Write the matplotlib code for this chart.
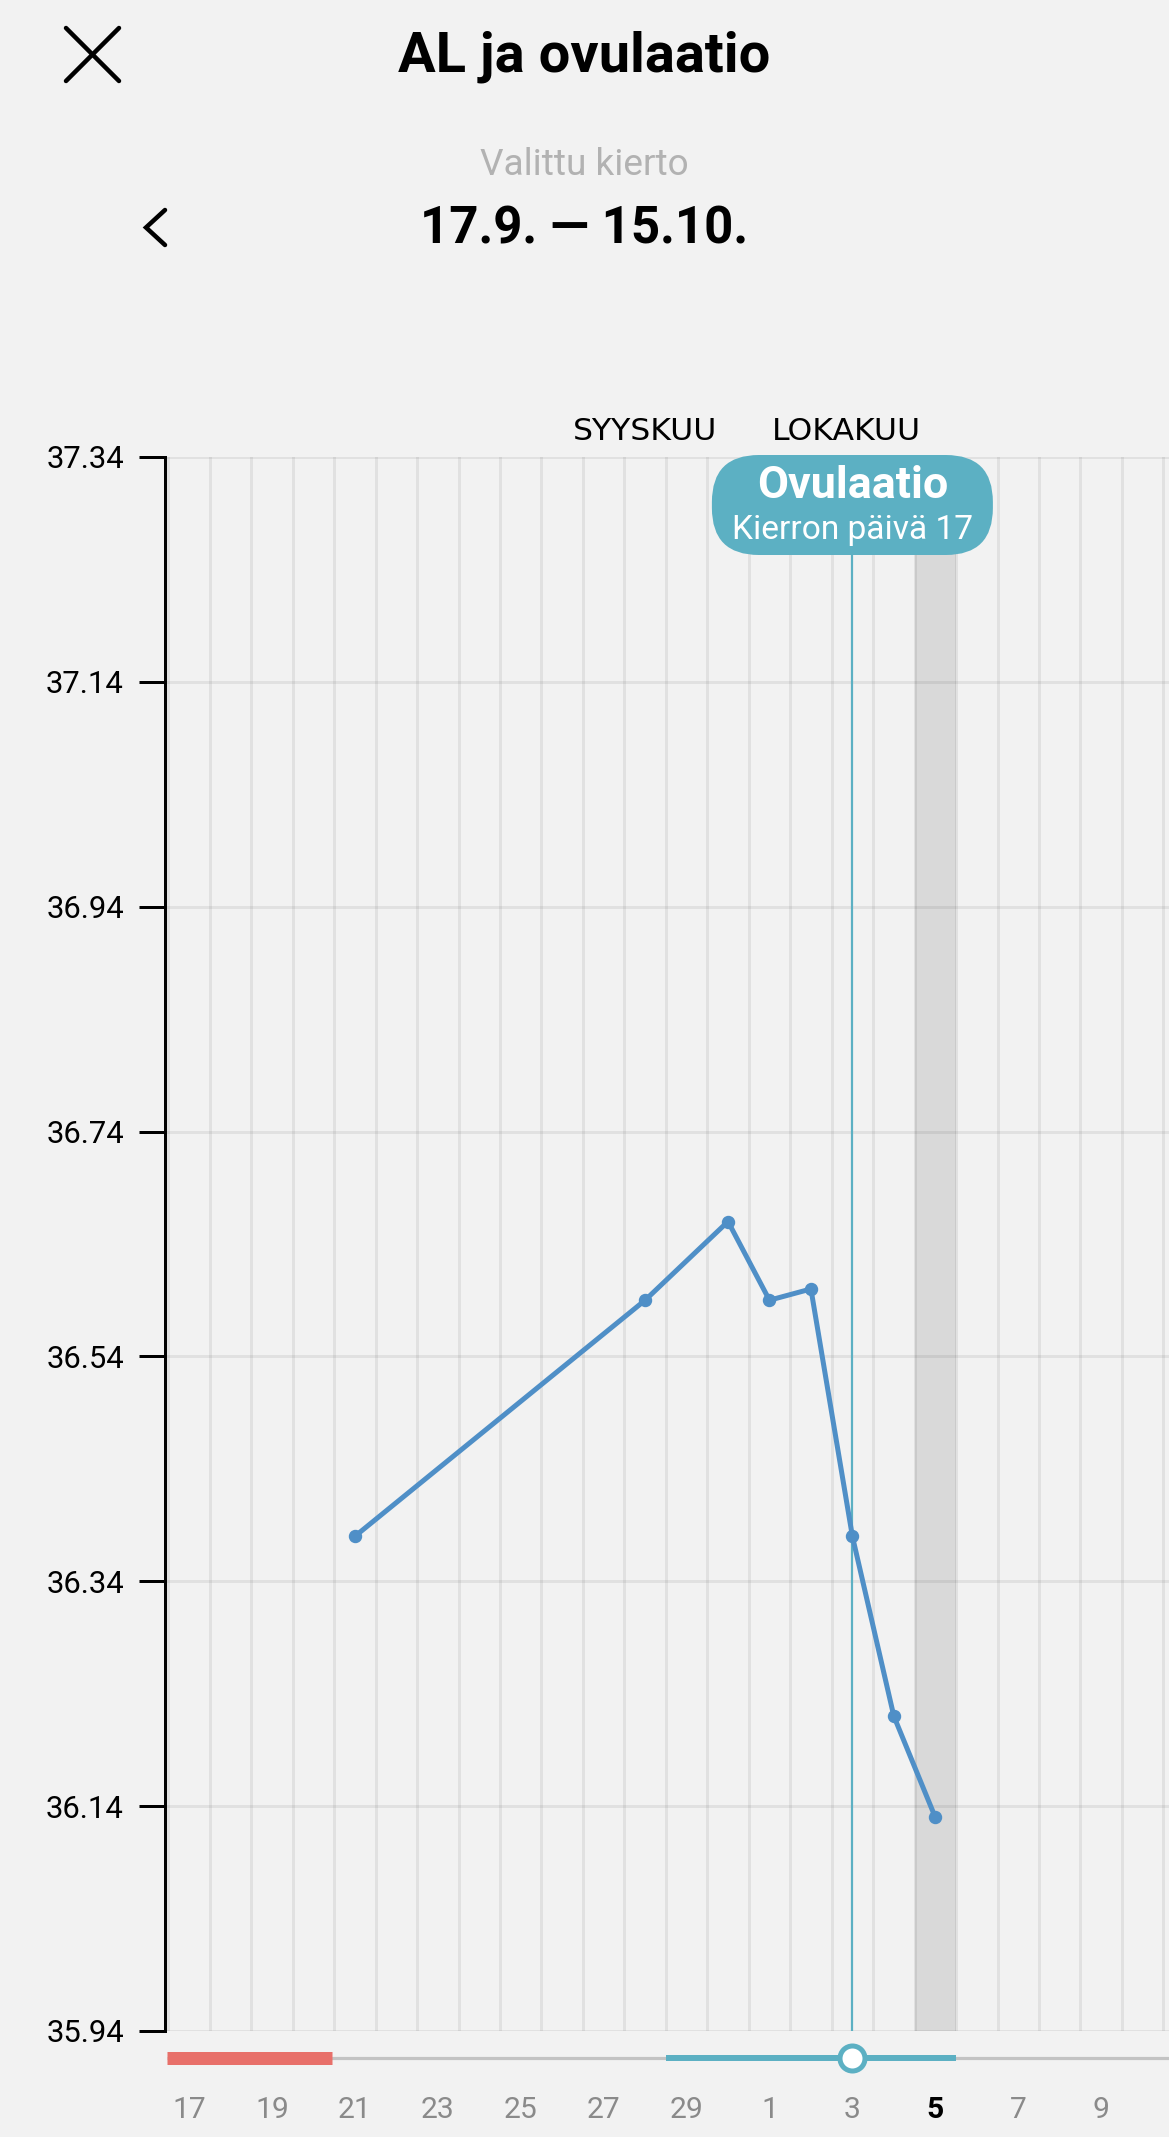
import matplotlib
matplotlib.use('Agg')
import matplotlib.pyplot as plt
from matplotlib.patches import FancyBboxPatch

# ---------------- data ----------------
title = 'AL ja ovulaatio'
subtitle = 'Valittu kierto'
cycle_range = '17.9. \u2014 15.10.'
xtick_days = [0, 2, 4, 6, 8, 10, 12, 14, 16, 18, 20, 22]
xtick_labels = ['17', '19', '21', '23', '25', '27', '29', '1', '3', '5', '7', '9']
temp_days = [4, 11, 13, 14, 15, 16, 17, 18]
temps = [36.38, 36.59, 36.66, 36.59, 36.60, 36.38, 36.22, 36.13]
yticks = [35.94, 36.14, 36.34, 36.54, 36.74, 36.94, 37.14, 37.34]
period_days = [0, 1, 2, 3]
fertile_days = [12, 13, 14, 15, 16, 17, 18]
ovulation_day = 16
ovulation_cycle_day = 17
today = 18
months = ['SYYSKUU', 'LOKAKUU']
month_pos = [11.0, 15.85]

# ---------------- style ----------------
W, H, DPI = 1169, 2137, 100
BG = '#f2f2f2'
LINE = '#4f8fc7'
TEAL = '#5cb0c3'
RED = '#e8706a'
BAND = '#d9d9d9'
GRID = (0, 0, 0, 0.065)
PT = 72 / DPI  # px -> pt
FONT = ['Roboto', 'DejaVu Sans']
plt.rcParams['font.family'] = FONT

fig = plt.figure(figsize=(W / DPI, H / DPI), dpi=DPI, facecolor=BG)

def fx(px):
    return px / W

def fy(py):
    return 1 - py / H

left_px, right_px, top_px, bot_px = 165, 1169, 457, 2031
cell = 41.46
x0 = -0.5 - 3.3 / cell
xmax = x0 + (right_px - left_px) / cell

ax = fig.add_axes([fx(left_px), fy(bot_px), fx(right_px - left_px), (bot_px - top_px) / H])
ax.set_facecolor(BG)
ax.set_xlim(x0, xmax)
ax.set_ylim(yticks[0], yticks[-1])

# grid
ax.set_yticks(yticks)
ax.set_yticklabels([f'{v:.2f}' for v in yticks])
for v in yticks:
    ax.axhline(v, color=GRID, lw=3 * PT, zorder=1)
k = -0.5
while k < xmax:
    ax.axvline(k, color=GRID, lw=3 * PT, zorder=1)
    k += 1

# today band
ax.axvspan(today - 0.5, today + 0.5, color=BAND, lw=0, zorder=0.5)
# ovulation line
ax.axvline(ovulation_day, color=TEAL, lw=2.2 * PT, zorder=2)

# temperature line
ax.plot(temp_days, temps, color=LINE, lw=5 * PT, marker='o', ms=12 * PT,
        mec=LINE, mfc=LINE, zorder=3, solid_joinstyle='round', solid_capstyle='round')

for s in ['top', 'right', 'bottom']:
    ax.spines[s].set_visible(False)
ax.spines['left'].set_color('black')
ax.spines['left'].set_linewidth(3 * PT)
ax.tick_params(axis='y', direction='out', length=26 * PT, width=3 * PT,
               labelsize=31 * PT, pad=15 * PT, colors='black')
ax.tick_params(axis='x', bottom=False, labelbottom=False)

# track axes
tr = fig.add_axes([fx(left_px), fy(2078), fx(right_px - left_px), 40 / H], sharex=ax)
tr.set_facecolor('none')
tr.set_ylim(-1, 1)
for s in tr.spines.values():
    s.set_visible(False)
tr.set_yticks([])
tr.plot([x0 + 0.04, xmax], [0, 0], color='#c3c3c3', lw=3.2 * PT, solid_capstyle='butt', zorder=1)
tr.plot([x0 + 0.04, period_days[-1] + 0.46], [0, 0], color=RED, lw=13 * PT,
        solid_capstyle='butt', zorder=2)
tr.plot([fertile_days[0] - 0.5, fertile_days[-1] + 0.5], [0, 0], color=TEAL, lw=6 * PT,
        solid_capstyle='butt', zorder=2)
tr.plot([ovulation_day], [0], marker='o', ms=25 * PT, mfc='white', mec=TEAL,
        mew=5 * PT, zorder=3, clip_on=False)
tr.set_xticks(xtick_days)
tr.set_xticklabels(xtick_labels)
tr.tick_params(axis='x', length=0, labelsize=30 * PT, pad=18 * PT, colors='#8a8a8a')
for lab, d in zip(tr.get_xticklabels(), xtick_days):
    if d == today:
        lab.set_color('black')
        lab.set_fontweight('bold')

# overlay axes in pixel coordinates
ov = fig.add_axes([0, 0, 1, 1])
ov.set_xlim(0, W)
ov.set_ylim(H, 0)
ov.axis('off')
ov.patch.set_alpha(0)

# title + header
ov.text(W / 2, 57, title, ha='center', va='center', fontsize=56 * PT, fontweight='bold', color='black')
ov.text(W / 2, 165, subtitle, ha='center', va='center', fontsize=37 * PT, color='#b2b2b2')
ov.text(W / 2, 229, cycle_range, ha='center', va='center', fontsize=51 * PT, fontweight='bold', color='black')
# close icon
ov.plot([66, 119], [28, 81], color='black', lw=4.5 * PT, solid_capstyle='round')
ov.plot([66, 119], [81, 28], color='black', lw=4.5 * PT, solid_capstyle='round')
# back chevron
ov.plot([165, 146, 165], [210, 227.5, 245], color='black', lw=4.5 * PT,
        solid_capstyle='round', solid_joinstyle='miter')

# month labels
for m, p in zip(months, month_pos):
    px = ax.transData.transform((p, yticks[-1]))[0]
    ov.text(px, 431, m, ha='center', va='center', fontsize=31.5 * PT, color='black',
            family=['DejaVu Sans'])

# ovulation badge
cx = ax.transData.transform((ovulation_day, yticks[-1]))[0]
bw, bh = 281, 100
badge = FancyBboxPatch((cx - bw / 2, 455), bw, bh,
                       boxstyle='round,pad=0,rounding_size=47',
                       fc=TEAL, ec='none', zorder=5)
ov.add_patch(badge)
ov.text(cx, 486, 'Ovulaatio', ha='center', va='center', fontsize=45 * PT,
        fontweight='bold', color='white', zorder=6)
ov.text(cx, 530, f'Kierron päivä {ovulation_cycle_day}', ha='center', va='center',
        fontsize=33.5 * PT, color='white', zorder=6)

fig.savefig('out.png', dpi=DPI, facecolor=BG)
